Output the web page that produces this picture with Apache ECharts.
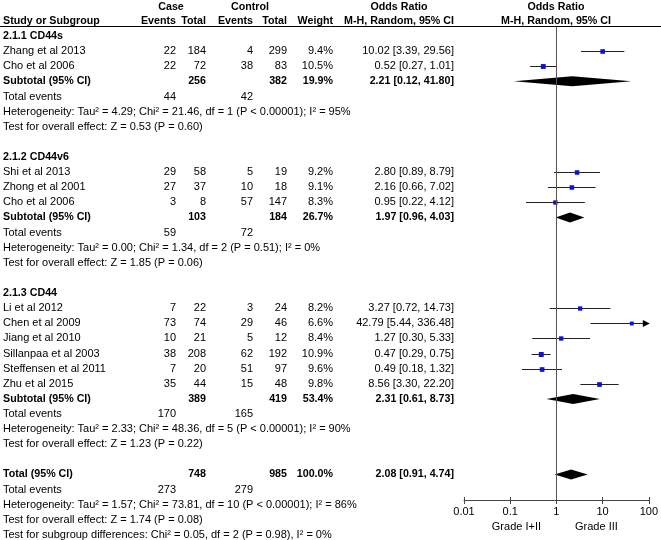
<!DOCTYPE html>
<html><head><meta charset="utf-8">
<script src="https://cdn.jsdelivr.net/npm/echarts@6/dist/echarts.min.js"></script>
<style>html,body{margin:0;padding:0;background:#fff}#c{width:661px;height:540px}</style>
</head><body><div id="c"></div>
<script>
// ---------------- DATA ----------------
const groupNames = ['2.1.1 CD44s', '2.1.2 CD44v6', '2.1.3 CD44'];
const studyNames = ['Zhang et al 2013', 'Cho et al 2006', 'Shi et al 2013', 'Zhong et al 2001', 'Cho et al 2006',
  'Li et al 2012', 'Chen et al 2009', 'Jiang et al 2010', 'Sillanpaa et al 2003', 'Steffensen et al 2011', 'Zhu et al 2015'];
const studyGroup = [0, 0, 1, 1, 1, 2, 2, 2, 2, 2, 2];
const caseEvents = [22, 22, 29, 27, 3, 7, 73, 10, 38, 7, 35];
const caseTotal = [184, 72, 58, 37, 8, 22, 74, 21, 208, 20, 44];
const ctrlEvents = [4, 38, 5, 10, 57, 3, 29, 5, 62, 51, 15];
const ctrlTotal = [299, 83, 19, 18, 147, 24, 46, 12, 192, 97, 48];
const weights = [9.4, 10.5, 9.2, 9.1, 8.3, 8.2, 6.6, 8.4, 10.9, 9.6, 9.8];
const orEst = [10.02, 0.52, 2.80, 2.16, 0.95, 3.27, 42.79, 1.27, 0.47, 0.49, 8.56];
const orLo = [3.39, 0.27, 0.89, 0.66, 0.22, 0.72, 5.44, 0.30, 0.29, 0.18, 3.30];
const orHi = [29.56, 1.01, 8.79, 7.02, 4.12, 14.73, 336.48, 5.33, 0.75, 1.32, 22.20];

const subCaseTotal = [256, 103, 389];
const subCtrlTotal = [382, 184, 419];
const subWeight = [19.9, 26.7, 53.4];
const subEst = [2.21, 1.97, 2.31];
const subLo = [0.12, 0.96, 0.61];
const subHi = [41.80, 4.03, 8.73];
const subCaseEvents = [44, 59, 170];
const subCtrlEvents = [42, 72, 165];
const subHet = [
  'Heterogeneity: Tau² = 4.29; Chi² = 21.46, df = 1 (P < 0.00001); I² = 95%',
  'Heterogeneity: Tau² = 0.00; Chi² = 1.34, df = 2 (P = 0.51); I² = 0%',
  'Heterogeneity: Tau² = 2.33; Chi² = 48.36, df = 5 (P < 0.00001); I² = 90%'];
const subTest = [
  'Test for overall effect: Z = 0.53 (P = 0.60)',
  'Test for overall effect: Z = 1.85 (P = 0.06)',
  'Test for overall effect: Z = 1.23 (P = 0.22)'];

const totalCaseTotal = 748, totalCtrlTotal = 985, totalWeight = 100.0;
const totalEst = 2.08, totalLo = 0.91, totalHi = 4.74;
const totalCaseEvents = 273, totalCtrlEvents = 279;
const totalHet = 'Heterogeneity: Tau² = 1.57; Chi² = 73.81, df = 10 (P < 0.00001); I² = 86%';
const totalTest = 'Test for overall effect: Z = 1.74 (P = 0.08)';
const subgroupTest = 'Test for subgroup differences: Chi² = 0.05, df = 2 (P = 0.98), I² = 0%';

const tickLabels = ['0.01', '0.1', '1', '10', '100'];
const favourLeft = 'Grade I+II', favourRight = 'Grade III';

// ---------------- LAYOUT ----------------
const W = 661, H = 540, ROW0 = 36, ROWH = 15.12;
const AXIS_Y = 500, HDR_LINE_Y = 26.5;
const F_LEFT = 464, F_RIGHT = 649;
const COL = { label: 3, caseEv: 176, caseTot: 206, ctrlEv: 253, ctrlTot: 287, weight: 333, ci: 454,
  caseHdr: 171, ctrlHdr: 250, ciHdr: 399, forestHdr: 556 };
const HDR_ROWS = [-1.9, -1.0];
const FONT = '"Liberation Sans", Arial, sans-serif';
const FS = 11, FSB = 10.7;
const X_MIN = 0.01, X_MAX = 100;

// ---------------- BUILD TABLE ----------------
const texts = []; // [x, row, text, align, bold]
function add(x, row, t, align, bold) { texts.push([x, row, t, align, bold ? 1 : 0]); }
const ci = (e, l, h) => e.toFixed(2) + ' [' + l.toFixed(2) + ', ' + h.toFixed(2) + ']';

add(COL.caseHdr, HDR_ROWS[0], 'Case', 'center', true);
add(COL.ctrlHdr, HDR_ROWS[0], 'Control', 'center', true);
add(COL.ciHdr, HDR_ROWS[0], 'Odds Ratio', 'center', true);
add(COL.forestHdr, HDR_ROWS[0], 'Odds Ratio', 'center', true);
add(COL.label, HDR_ROWS[1], 'Study or Subgroup', 'left', true);
add(COL.caseEv, HDR_ROWS[1], 'Events', 'right', true);
add(COL.caseTot, HDR_ROWS[1], 'Total', 'right', true);
add(COL.ctrlEv, HDR_ROWS[1], 'Events', 'right', true);
add(COL.ctrlTot, HDR_ROWS[1], 'Total', 'right', true);
add(COL.weight, HDR_ROWS[1], 'Weight', 'right', true);
add(COL.ciHdr, HDR_ROWS[1], 'M-H, Random, 95% CI', 'center', true);
add(COL.forestHdr, HDR_ROWS[1], 'M-H, Random, 95% CI', 'center', true);

const studyRows = [], subRows = [];
let r = 0;
groupNames.forEach((g, gi) => {
  add(COL.label, r, g, 'left', true); r++;
  studyNames.forEach((n, i) => {
    if (studyGroup[i] !== gi) return;
    add(COL.label, r, n, 'left');
    add(COL.caseEv, r, String(caseEvents[i]), 'right');
    add(COL.caseTot, r, String(caseTotal[i]), 'right');
    add(COL.ctrlEv, r, String(ctrlEvents[i]), 'right');
    add(COL.ctrlTot, r, String(ctrlTotal[i]), 'right');
    add(COL.weight, r, weights[i].toFixed(1) + '%', 'right');
    add(COL.ci, r, ci(orEst[i], orLo[i], orHi[i]), 'right');
    studyRows[i] = r; r++;
  });
  add(COL.label, r, 'Subtotal (95% CI)', 'left', true);
  add(COL.caseTot, r, String(subCaseTotal[gi]), 'right', true);
  add(COL.ctrlTot, r, String(subCtrlTotal[gi]), 'right', true);
  add(COL.weight, r, subWeight[gi].toFixed(1) + '%', 'right', true);
  add(COL.ci, r, ci(subEst[gi], subLo[gi], subHi[gi]), 'right', true);
  subRows[gi] = r; r++;
  add(COL.label, r, 'Total events', 'left');
  add(COL.caseEv, r, String(subCaseEvents[gi]), 'right');
  add(COL.ctrlEv, r, String(subCtrlEvents[gi]), 'right'); r++;
  add(COL.label, r, subHet[gi], 'left'); r++;
  add(COL.label, r, subTest[gi], 'left'); r++;
  r++;
});
add(COL.label, r, 'Total (95% CI)', 'left', true);
add(COL.caseTot, r, String(totalCaseTotal), 'right', true);
add(COL.ctrlTot, r, String(totalCtrlTotal), 'right', true);
add(COL.weight, r, totalWeight.toFixed(1) + '%', 'right', true);
add(COL.ci, r, ci(totalEst, totalLo, totalHi), 'right', true);
const totalRow = r; r++;
add(COL.label, r, 'Total events', 'left');
add(COL.caseEv, r, String(totalCaseEvents), 'right');
add(COL.ctrlEv, r, String(totalCtrlEvents), 'right'); r++;
add(COL.label, r, totalHet, 'left'); r++;
add(COL.label, r, totalTest, 'left'); r++;
add(COL.label, r, subgroupTest, 'left'); r++;

// forest data
const studyData = studyNames.map((n, i) => [orEst[i], studyRows[i], orLo[i], orHi[i], weights[i]]);
const diamondData = subEst.map((e, gi) => [e, subRows[gi], subLo[gi], subHi[gi]]);
diamondData.push([totalEst, totalRow, totalLo, totalHi]);

const yMin = -ROW0 / ROWH;
const hdrRow = (HDR_LINE_Y - ROW0) / ROWH;
const axisRow = (AXIS_Y - ROW0) / ROWH;

const chart = echarts.init(document.getElementById('c'), null, { renderer: 'canvas' });
chart.setOption({
  animation: false,
  backgroundColor: '#fff',
  grid: [
    { left: 0, top: 0, width: W, height: H },
    { left: F_LEFT, top: 0, width: F_RIGHT - F_LEFT, height: AXIS_Y }
  ],
  xAxis: [
    { type: 'value', gridIndex: 0, min: 0, max: W, show: false },
    { type: 'log', gridIndex: 1, logBase: 10, min: X_MIN, max: X_MAX, position: 'bottom',
      axisLine: { show: true, onZero: false, lineStyle: { color: '#444', width: 1 } },
      axisTick: { show: true, length: 4, lineStyle: { color: '#444' } },
      axisLabel: { color: '#000', fontSize: FS, fontFamily: FONT, margin: 6,
        formatter: (v, i) => tickLabels[i] },
      splitLine: { show: false },
      name: '{a|' + favourLeft + '}{g|}{b|' + favourRight + '}',
      nameLocation: 'middle', nameGap: 20,
      nameTextStyle: { color: '#000', fontSize: FS, fontFamily: FONT,
        rich: { a: { width: 70, align: 'right', fontSize: FS, fontFamily: FONT, color: '#000' },
                g: { width: 10 },
                b: { width: 70, align: 'left', fontSize: FS, fontFamily: FONT, color: '#000' } } } },
    { type: 'log', gridIndex: 1, logBase: 10, min: X_MIN, max: X_MAX, position: 'bottom',
      axisLine: { show: false, onZero: false }, axisLabel: { show: false }, splitLine: { show: false },
      axisTick: { show: true, inside: true, length: 3, lineStyle: { color: '#444' } } }
  ],
  yAxis: [
    { type: 'value', gridIndex: 0, inverse: true, min: yMin, max: (H - ROW0) / ROWH, show: false },
    { type: 'value', gridIndex: 1, inverse: true, min: yMin, max: axisRow, show: false }
  ],
  graphic: [
    { type: 'line', shape: { x1: 0, y1: HDR_LINE_Y, x2: W, y2: HDR_LINE_Y }, style: { stroke: '#000', lineWidth: 1 }, z: 10 }
  ],
  series: [
    { type: 'custom', xAxisIndex: 0, yAxisIndex: 0, clip: false,
      data: texts.map(t => [t[0], t[1]]),
      renderItem: (params, api) => {
        const t = texts[params.dataIndex];
        const p = api.coord([t[0], t[1]]);
        return { type: 'text', x: p[0], y: p[1],
          style: { text: t[2], align: t[3], verticalAlign: 'middle',
            fontFamily: FONT, fontSize: t[4] ? FSB : FS, fontWeight: t[4] ? 'bold' : 'normal', fill: '#000' } };
      } },
    { type: 'custom', xAxisIndex: 1, yAxisIndex: 1, clip: false,
      data: studyData,
      renderItem: (params, api) => {
        const e = api.value(0), row = api.value(1), lo = api.value(2), hi = api.value(3), w = api.value(4);
        const c = api.coord([e, row]);
        const pl = api.coord([Math.max(lo, X_MIN), row]);
        const ph = api.coord([Math.min(hi, X_MAX), row]);
        const y = Math.round(c[1]) + 0.5;
        const s = 1.5 * Math.sqrt(w);
        const kids = [
          { type: 'line', shape: { x1: pl[0], y1: y, x2: ph[0], y2: y }, style: { stroke: '#222', lineWidth: 1 } },
          { type: 'rect', shape: { x: c[0] - s / 2, y: y - s / 2, width: s, height: s }, style: { fill: '#1010d0' } }
        ];
        if (hi > X_MAX) {
          kids.push({ type: 'polygon', shape: { points: [[ph[0] + 1, y], [ph[0] - 6, y - 3.5], [ph[0] - 6, y + 3.5]] }, style: { fill: '#000' } });
        }
        return { type: 'group', children: kids };
      },
      markLine: { silent: true, symbol: 'none', label: { show: false },
        lineStyle: { color: '#555', width: 1, type: 'solid' },
        data: [[{ coord: [1, hdrRow] }, { coord: [1, axisRow] }]] } },
    { type: 'custom', xAxisIndex: 1, yAxisIndex: 1, clip: false,
      data: diamondData,
      renderItem: (params, api) => {
        const c = api.coord([api.value(0), api.value(1)]);
        const pl = api.coord([api.value(2), api.value(1)]);
        const ph = api.coord([api.value(3), api.value(1)]);
        const y = c[1], hh = 5;
        return { type: 'polygon', shape: { points: [[pl[0], y], [c[0], y - hh], [ph[0], y], [c[0], y + hh]] },
          style: { fill: '#000' } };
      } }
  ]
});
</script></body></html>
